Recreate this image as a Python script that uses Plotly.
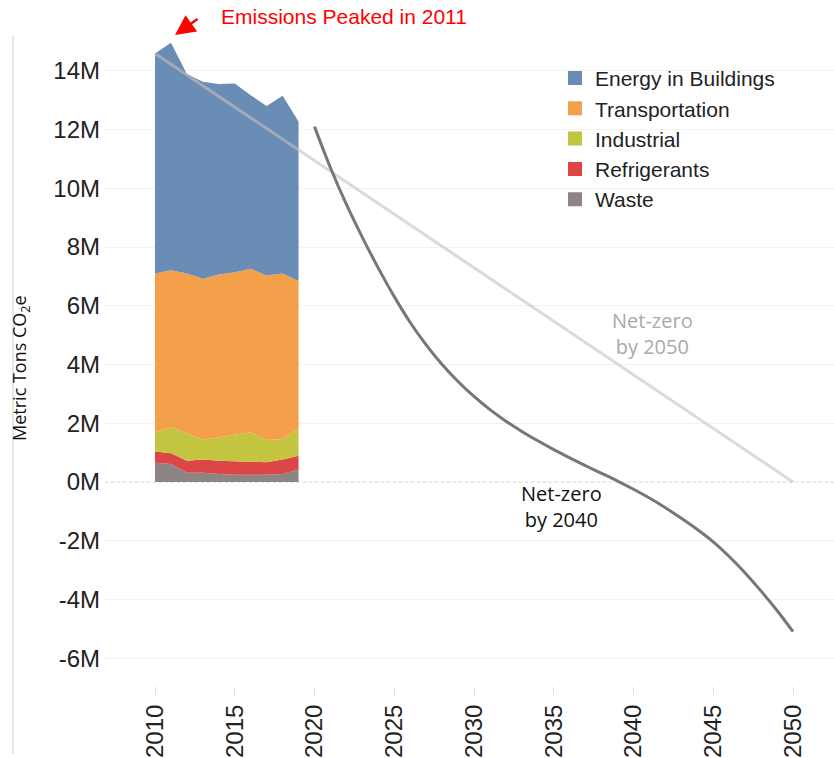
import plotly.graph_objects as go

# ---------------- data (millions of metric tons CO2e) ----------------
years_hist = list(range(2010, 2020))
energy = [7.49, 7.75, 6.79, 6.71, 6.49, 6.43, 5.91, 5.77, 6.05, 5.43]
transportation = [5.41, 5.35, 5.45, 5.48, 5.54, 5.54, 5.57, 5.60, 5.64, 5.02]
industrial = [0.65, 0.88, 0.93, 0.68, 0.80, 0.90, 1.02, 0.76, 0.70, 0.93]
refrigerants = [0.39, 0.37, 0.41, 0.45, 0.45, 0.46, 0.43, 0.43, 0.49, 0.47]
waste = [0.65, 0.61, 0.31, 0.31, 0.27, 0.24, 0.24, 0.24, 0.27, 0.42]

path2050_years = [2010, 2050]
path2050_vals = [14.59, 0.0]

path2040_years = list(range(2020, 2051))
path2040_vals = [12.10, 10.70, 9.45, 8.33, 7.28, 6.31, 5.43, 4.67, 4.00, 3.42,
                 2.91, 2.46, 2.07, 1.72, 1.40, 1.10, 0.82, 0.55, 0.29, 0.03,
                 -0.25, -0.55, -0.88, -1.24, -1.62, -2.04, -2.54, -3.10, -3.72,
                 -4.38, -5.10]

series_names = ["Waste", "Refrigerants", "Industrial", "Transportation", "Energy in Buildings"]
series_vals = [waste, refrigerants, industrial, transportation, energy]
series_colors = ["#8c8583", "#dd4646", "#c3c43f", "#f4a04b", "#6a8db5"]

x_ticks = list(range(2010, 2051, 5))
y_ticks = list(range(-6, 15, 2))
y_tick_labels = [f"{v}M" for v in y_ticks]

# ---------------- figure ----------------
fig = go.Figure()

for name, vals, col in zip(series_names, series_vals, series_colors):
    fig.add_trace(go.Scatter(
        x=years_hist, y=vals, name=name, mode="lines",
        stackgroup="hist", line=dict(width=0, color=col),
        fillcolor=col, showlegend=False, hoverinfo="skip"))

# legend entries with square swatches
for name, col in zip(series_names, series_colors):
    fig.add_trace(go.Scatter(
        x=[None], y=[None], name=name, mode="markers",
        marker=dict(symbol="square", size=14, color=col), showlegend=True))

fig.add_trace(go.Scatter(
    x=path2050_years, y=path2050_vals, mode="lines",
    line=dict(color="rgba(200,190,190,0.6)", width=3), showlegend=False))

fig.add_trace(go.Scatter(
    x=path2040_years, y=path2040_vals, mode="lines",
    line=dict(color="#777777", width=3, shape="spline"), showlegend=False))

L, R, T, B = 105, 0, 35, 68
W, H = 834, 758
pw, ph = W - L - R, H - T - B

def px_x(p):
    return (p - L) / pw

def px_y(p):
    return (H - B - p) / ph

fig.update_layout(
    width=W, height=H,
    margin=dict(l=L, r=R, t=T, b=B),
    paper_bgcolor="white", plot_bgcolor="white",
    font=dict(family="Liberation Sans, Arial, sans-serif", color="#222222"),
    legend=dict(x=px_x(555), y=px_y(58), xanchor="left", yanchor="top",
                traceorder="reversed", font=dict(size=21, color="#222222"),
                itemwidth=30, bgcolor="rgba(0,0,0,0)"),
    xaxis=dict(range=[2006.865, 2052.57], tickvals=x_ticks, tickangle=-90,
               tickfont=dict(size=24, color="#222222"), ticks="outside",
               ticklen=8, tickcolor="#dddddd", showgrid=False, zeroline=False,
               showline=False),
    yaxis=dict(range=[-6.95, 15.22], tickvals=y_ticks, ticktext=y_tick_labels,
               tickfont=dict(size=24, color="#222222"), ticks="",
               gridcolor="#f2f2f2", zeroline=False, showline=False,
               ticklabelstandoff=4),
    shapes=[
        dict(type="line", xref="paper", yref="y", x0=0, x1=1, y0=0, y1=0,
             line=dict(color="#bbbbbb", width=1, dash="dot"), layer="below"),
        dict(type="line", xref="paper", yref="paper", x0=px_x(13), x1=px_x(13),
             y0=px_y(758), y1=px_y(36), line=dict(color="#cccccc", width=1)),
    ],
    annotations=[
        dict(text="Emissions Peaked in 2011", xref="paper", yref="paper",
             x=px_x(344), y=px_y(16), xanchor="center", yanchor="middle",
             showarrow=False, font=dict(size=21, color="#ff0000")),
        dict(text="", xref="paper", yref="paper", x=px_x(175), y=px_y(35),
             ax=24, ay=-17, showarrow=True, arrowhead=2, arrowsize=1.6,
             arrowwidth=2.5, arrowcolor="#ff0000"),
        dict(text="Net-zero<br>by 2050", xref="x", yref="y", x=2041.16, y=5.06,
             showarrow=False,
             font=dict(family="Open Sans, Noto Sans, sans-serif", size=20,
                       color="#aaaaaa")),
        dict(text="Net-zero<br>by 2040", xref="x", yref="y", x=2035.5, y=-0.85,
             showarrow=False,
             font=dict(family="Open Sans, Noto Sans, sans-serif", size=20,
                       color="#111111")),
        dict(text="Metric Tons CO<sub>2</sub>e", xref="paper", yref="paper",
             x=px_x(21), y=px_y(370), xanchor="center", yanchor="middle",
             textangle=-90, showarrow=False,
             font=dict(family="Open Sans, Noto Sans, sans-serif", size=18,
                       color="#111111")),
    ],
)

fig.write_html("out.html",
               config={"displayModeBar": False},
               post_script="document.body.style.margin='0';"
                           "document.body.style.overflow='hidden';")
